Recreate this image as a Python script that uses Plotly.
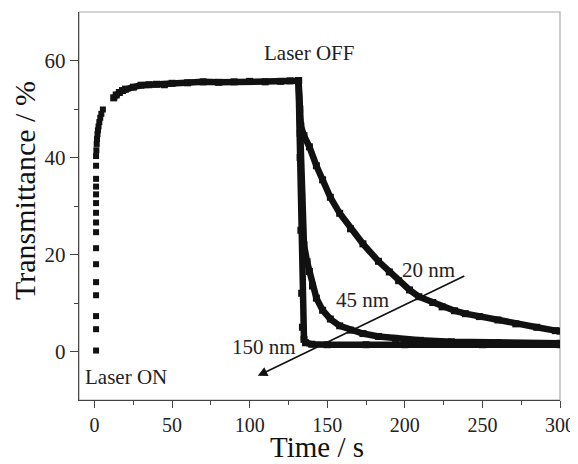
import plotly.graph_objects as go

# Rise after laser ON (shared by all samples)
rise_t = [1.0, 1.0, 1.0, 1.0, 1.0, 1.0, 1.0, 1.0, 1.0, 1.0, 1.0, 1.0, 1.0, 1.0, 1.0, 1.0,
          1.2, 1.4, 1.6, 1.9, 2.2, 2.6, 3.1, 3.7, 4.4, 5.4, 12.4]
rise_T = [0.2, 4.6, 7.3, 11.6, 14.3, 18.0, 21.3, 24.6, 26.6, 28.6, 30.6, 32.4, 34.0, 35.6, 38.3, 40.3,
          41.5, 42.8, 43.8, 44.8, 45.6, 46.4, 47.3, 48.2, 49.0, 49.9, 52.3]

# Plateau (laser ON, before switching OFF)
plat_t = [12.4, 14, 16, 18, 20, 25, 30, 35, 40, 45, 50, 60, 70, 80, 90, 100, 110, 120, 126, 131.5]
plat_T = [52.3, 52.9, 53.4, 53.8, 54.1, 54.5, 54.9, 55.0, 55.1, 55.0, 55.3, 55.4, 55.6, 55.5, 55.6,
          55.7, 55.6, 55.7, 55.8, 55.8]

# Decays after laser OFF
t20 = [131.5, 132.3, 133, 135, 138.5, 143, 147, 152, 158, 165, 173, 183, 190, 196, 203, 209,
       218, 224, 232, 239, 248, 260, 271.5, 285, 297, 300]
T20 = [55.8, 50.0, 46.5, 44.5, 42.2, 38.3, 35.4, 31.8, 28.5, 25.3, 22.2, 18.6, 16.4, 14.6, 12.7, 11.3,
       10.1, 9.2, 8.4, 7.8, 7.2, 6.5, 5.7, 5.0, 4.3, 4.2]

t45 = [131.5, 132.5, 133.5, 135, 137, 138.5, 140.5, 143, 147, 152, 158, 165, 173, 183, 194,
       210, 230, 260, 300]
T45 = [55.8, 45.0, 32.0, 22.0, 18.5, 16.5, 13.5, 11.0, 8.5, 6.7, 5.3, 4.4, 3.7, 3.1, 2.7,
       2.3, 2.0, 1.8, 1.7]

t150 = [131.5, 132.5, 133.0, 133.5, 134, 135, 136, 140, 150, 175, 200, 250, 300]
T150 = [55.8, 40.0, 25.0, 12.0, 5.0, 2.5, 1.8, 1.5, 1.4, 1.4, 1.4, 1.4, 1.4]

x_ticks = [0, 50, 100, 150, 200, 250, 300]
y_ticks = [0, 20, 40, 60]

FONT = "Liberation Serif"
BLACK = "#111111"

fig = go.Figure()

fig.add_trace(go.Scatter(x=rise_t, y=rise_T, mode="markers",
                         marker=dict(symbol="square", size=6, color=BLACK),
                         showlegend=False, hoverinfo="skip"))
fig.add_trace(go.Scatter(x=plat_t, y=plat_T, mode="lines+markers",
                         line=dict(color=BLACK, width=6.5),
                         marker=dict(symbol="square", size=7, color=BLACK),
                         showlegend=False))
for tx, ty in [(t20, T20), (t45, T45), (t150, T150)]:
    fig.add_trace(go.Scatter(x=tx, y=ty, mode="lines+markers",
                             line=dict(color=BLACK, width=6.5),
                             marker=dict(symbol="square", size=7, color=BLACK),
                             showlegend=False))

# labels
labels = [
    ("Laser ON", 20, -5.3),
    ("Laser OFF", 138.2, 61.6),
    ("20 nm", 215, 16.8),
    ("45 nm", 172.8, 10.6),
    ("150 nm", 109.5, 0.9),
]
for txt, lx, ly in labels:
    fig.add_annotation(x=lx, y=ly, xref="x", yref="y", text=txt, showarrow=False,
                       font=dict(family=FONT, size=21, color="#222222"))

# axis titles
fig.add_annotation(x=0.494, y=-0.121, xref="paper", yref="paper", text="Time / s",
                   showarrow=False, xanchor="center", yanchor="middle",
                   font=dict(family=FONT, size=29, color="#111111"))
fig.add_annotation(x=-0.112, y=0.539, xref="paper", yref="paper", text="Transmittance / %",
                   showarrow=False, xanchor="center", yanchor="middle", textangle=-90,
                   font=dict(family=FONT, size=30, color="#111111"))

# arrow
fig.add_annotation(x=105.2, y=-5.0, ax=239.3, ay=15.7, xref="x", yref="y",
                   axref="x", ayref="y", text="", showarrow=True,
                   arrowhead=2, arrowsize=1.2, arrowwidth=1.6, arrowcolor=BLACK)

# frame (top/right lighter)
fig.add_shape(type="rect", xref="x domain", yref="y domain", x0=0, x1=1, y0=0, y1=1,
              line=dict(color="#aaaaaa", width=1.2), layer="below")

fig.update_xaxes(range=[-10, 300], tickvals=x_ticks, automargin=False,
                 ticks="outside", ticklen=7, tickwidth=1.3, tickcolor="#444444",
                 minor=dict(tickvals=[25, 75, 125, 175, 225, 275], ticks="outside",
                            ticklen=4, tickwidth=1.2, tickcolor="#444444"),
                 showline=True, linecolor="#444444", linewidth=1.4,
                 showgrid=False, zeroline=False,
                 tickfont=dict(family=FONT, size=20, color="#222222"))
fig.update_yaxes(range=[-10, 70], tickvals=y_ticks, automargin=False,
                 ticks="outside", ticklen=8, tickwidth=1.3, tickcolor="#444444",
                 minor=dict(tickvals=[10, 30, 50], ticks="outside",
                            ticklen=4, tickwidth=1.2, tickcolor="#444444"),
                 showline=True, linecolor="#444444", linewidth=1.4,
                 showgrid=False, zeroline=False,
                 tickfont=dict(family=FONT, size=21, color="#222222"))

# the page body adds an 8px offset, so the figure is 570x456 with shifted margins
fig.update_layout(width=570, height=456, margin=dict(l=71, r=18, t=4, b=64, autoexpand=False),
                  paper_bgcolor="white", plot_bgcolor="white", showlegend=False)

fig.write_html("out.html")
